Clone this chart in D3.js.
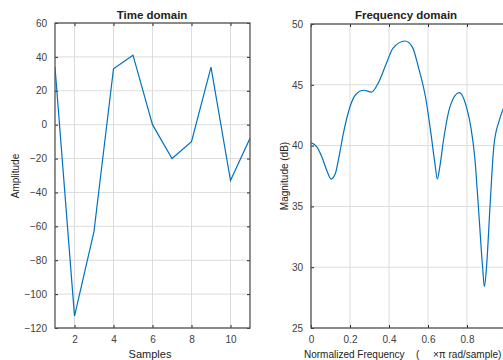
<!DOCTYPE html>
<html>
<head>
<meta charset="utf-8">
<script src="https://cdn.jsdelivr.net/npm/d3@7"></script>
<style>
  body { margin: 0; background: #fff; }
  svg { display: block; font-family: "Liberation Sans", Arial, sans-serif; }
</style>
</head>
<body>
<div id="chart"></div>
<script>
// time domain samples
const samples = [1, 2, 3, 4, 5, 6, 7, 8, 9, 10, 11];
const amplitude = [34, -113, -63, 33, 41, 0, -20, -10, 34, -33, -8];
const timeXTicks = [2, 4, 6, 8, 10];
const timeYTicks = [-120, -100, -80, -60, -40, -20, 0, 20, 40, 60];

// frequency domain
const freq = [0, 0.03, 0.055, 0.08, 0.103, 0.125, 0.145, 0.166, 0.2, 0.23, 0.27, 0.31, 0.34, 0.39, 0.42,
  0.482, 0.52, 0.55, 0.59, 0.615, 0.635, 0.648, 0.66, 0.68, 0.713, 0.76, 0.8, 0.82, 0.84, 0.857, 0.88,
  0.889, 0.9, 0.918, 0.938, 0.966, 0.99];
const magDb = [40.25, 39.9, 39.1, 38.0, 37.25, 37.7, 39.2, 41.0, 43.2, 44.2, 44.55, 44.4, 45.0, 46.9, 48.0,
  48.6, 48.1, 46.5, 43.75, 41.0, 38.6, 37.25, 38.2, 40.5, 43.2, 44.35, 43.0, 41.5, 39.0, 35.3, 30.0,
  28.4, 30.0, 35.0, 40.0, 42.1, 43.2];
const freqXTicks = [0, 0.2, 0.4, 0.6, 0.8];
const freqYTicks = [25, 30, 35, 40, 45, 50];

const width = 503, height = 360;
const lineColor = "#0072bd";
const axisColor = "#262626";
const gridColor = "#dcdcdc";

const svg = d3.select("#chart").append("svg")
  .attr("width", width).attr("height", height);

const defs = svg.append("defs");

function panel(opts) {
  const { left, right, top, bottom, x, y, xTicks, yTicks, xFmt, id } = opts;

  defs.append("clipPath").attr("id", id)
    .append("rect").attr("x", left).attr("y", top)
    .attr("width", right - left).attr("height", bottom - top);

  const g = svg.append("g");

  // grid
  g.selectAll(".gx").data(xTicks).enter().append("line")
    .attr("x1", d => x(d)).attr("x2", d => x(d))
    .attr("y1", top).attr("y2", bottom)
    .attr("stroke", gridColor).attr("stroke-width", 1);
  g.selectAll(".gy").data(yTicks).enter().append("line")
    .attr("x1", left).attr("x2", right)
    .attr("y1", d => y(d)).attr("y2", d => y(d))
    .attr("stroke", gridColor).attr("stroke-width", 1);

  // axes with inward ticks on all sides
  const ax = svg.append("g").attr("transform", `translate(0,${bottom})`)
    .call(d3.axisBottom(x).tickValues(xTicks).tickSizeInner(-3).tickSizeOuter(0).tickPadding(8).tickFormat(xFmt));
  const axTop = svg.append("g").attr("transform", `translate(0,${top})`)
    .call(d3.axisTop(x).tickValues(xTicks).tickSizeInner(-3).tickSizeOuter(0).tickFormat(""));
  const ay = svg.append("g").attr("transform", `translate(${left},0)`)
    .call(d3.axisLeft(y).tickValues(yTicks).tickSizeInner(-3).tickSizeOuter(0).tickPadding(8));
  const ayR = svg.append("g").attr("transform", `translate(${right},0)`)
    .call(d3.axisRight(y).tickValues(yTicks).tickSizeInner(-3).tickSizeOuter(0).tickFormat(""));

  [ax, axTop, ay, ayR].forEach(a => {
    a.select(".domain").remove();
    a.selectAll("line").attr("stroke", axisColor);
    a.selectAll("text").attr("fill", "#404040").attr("font-size", 10)
      .attr("font-family", "'Liberation Sans', Arial, sans-serif");
  });

  // box
  svg.append("rect").attr("x", left).attr("y", top)
    .attr("width", right - left).attr("height", bottom - top)
    .attr("fill", "none").attr("stroke", "#555").attr("stroke-width", 1.3);

  return g;
}

// ---- time domain ----
const tx = d3.scaleLinear().domain([1, 11]).range([55, 250]);
const ty = d3.scaleLinear().domain([-120, 60]).range([328, 23]);

panel({ left: 55, right: 250, top: 23, bottom: 328, x: tx, y: ty,
  xTicks: timeXTicks, yTicks: timeYTicks, xFmt: d3.format("d"), id: "clipT" });

svg.append("path")
  .datum(samples.map((s, i) => [s, amplitude[i]]))
  .attr("clip-path", "url(#clipT)")
  .attr("fill", "none").attr("stroke", lineColor).attr("stroke-width", 1.2)
  .attr("d", d3.line().x(d => tx(d[0])).y(d => ty(d[1])));

svg.append("text").attr("x", 152).attr("y", 19).attr("text-anchor", "middle")
  .attr("font-size", 11.5).attr("font-weight", "bold").attr("fill", "#222")
  .text("Time domain");
svg.append("text").attr("x", 150).attr("y", 358).attr("text-anchor", "middle")
  .attr("font-size", 11).attr("fill", "#222").text("Samples");
svg.append("text").attr("transform", "translate(19,176) rotate(-90)")
  .attr("text-anchor", "middle").attr("font-size", 10).attr("fill", "#222")
  .text("Amplitude");

// ---- frequency domain ----
const fx = d3.scaleLinear().domain([0, 1]).range([311, 506]);
const fy = d3.scaleLinear().domain([25, 50]).range([328, 24]);

panel({ left: 311, right: 506, top: 24, bottom: 328, x: fx, y: fy,
  xTicks: freqXTicks, yTicks: freqYTicks, xFmt: d => d === 0 ? "0" : d3.format(".1f")(d), id: "clipF" });

svg.append("path")
  .datum(freq.map((f, i) => [f, magDb[i]]))
  .attr("clip-path", "url(#clipF)")
  .attr("fill", "none").attr("stroke", lineColor).attr("stroke-width", 1.2)
  .attr("d", d3.line().x(d => fx(d[0])).y(d => fy(d[1])).curve(d3.curveMonotoneX));

svg.append("text").attr("x", 406).attr("y", 19).attr("text-anchor", "middle")
  .attr("font-size", 11.5).attr("font-weight", "bold").attr("fill", "#222")
  .text("Frequency domain");
svg.append("text").attr("transform", "translate(288,176) rotate(-90)")
  .attr("text-anchor", "middle").attr("font-size", 10).attr("fill", "#222")
  .text("Magnitude (dB)");

const xl = svg.append("text").attr("y", 358).attr("font-size", 10).attr("fill", "#222");
xl.append("tspan").attr("x", 304).text("Normalized  Frequency");
xl.append("tspan").attr("x", 416).text("(");
xl.append("tspan").attr("x", 433).text("\u00d7\u03c0 rad/sample)");
</script>
</body>
</html>
